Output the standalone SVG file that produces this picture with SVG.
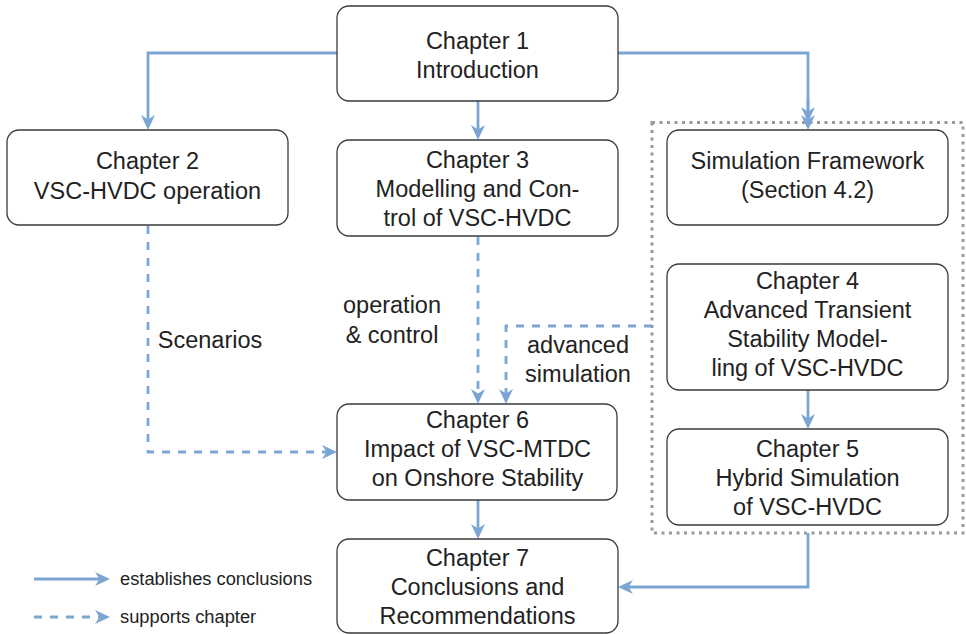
<svg xmlns="http://www.w3.org/2000/svg" width="966" height="634" viewBox="0 0 966 634">
<style>
.box{fill:#fff;stroke:#3a3a3a;stroke-width:1.3}
.t{font-family:"Liberation Sans",Arial,sans-serif;font-size:23.5px;fill:#222;text-anchor:middle}
.lg{font-family:"Liberation Sans",Arial,sans-serif;font-size:18.3px;fill:#222}
.s{fill:none;stroke:#7ba6d4;stroke-width:2.8}
.d{fill:none;stroke:#7ba6d4;stroke-width:2.8;stroke-dasharray:8 8}
.frame{fill:none;stroke:#9a9a9a;stroke-width:3;stroke-dasharray:3 4.5}
</style>
<defs>
<marker id="ah" markerUnits="userSpaceOnUse" markerWidth="18" markerHeight="18" viewBox="-1 -9 18 18" refX="11" refY="0" orient="auto">
<path d="M0,-7 L15,0 L0,7 L4.5,0 z" fill="#7ba6d4"/>
</marker>
</defs>
<rect x="0" y="0" width="966" height="634" fill="#fff"/>
<rect class="frame" x="652" y="122.5" width="311" height="410.5"/>
<g id="connectors">
<path class="s" d="M337,53 H148 V126" marker-end="url(#ah)"/>
<path class="s" d="M478,101 V136" marker-end="url(#ah)"/>
<path class="s" d="M618,53 H808 V126" marker-end="url(#ah)"/>
<path class="s" d="M808,100 V118" marker-end="url(#ah)"/>
<path class="d" d="M148,226 V452 H333" marker-end="url(#ah)"/>
<path class="d" d="M478,237 V400" marker-end="url(#ah)"/>
<path class="d" d="M652,326 H506 V400" marker-end="url(#ah)"/>
<path class="s" d="M808,390 V425" marker-end="url(#ah)"/>
<path class="s" d="M808,533 V587 H622" marker-end="url(#ah)"/>
<path class="s" d="M478,500 V535" marker-end="url(#ah)"/>
</g>
<g id="labels">
<text class="t" x="210" y="348">Scenarios</text>
<text class="t" x="392" y="313">operation</text>
<text class="t" x="392" y="343">&amp; control</text>
<text class="t" x="578" y="353">advanced</text>
<text class="t" x="578" y="382">simulation</text>
</g>
<g id="ch1">
<rect class="box" x="337" y="6" width="281" height="95" rx="12"/>
<text class="t" x="477.5" y="48.5">Chapter 1</text>
<text class="t" x="477.5" y="78">Introduction</text>
</g>
<g id="ch2">
<rect class="box" x="7" y="130" width="281" height="95" rx="12"/>
<text class="t" x="147.5" y="168.5">Chapter 2</text>
<text class="t" x="147.5" y="198.5">VSC-HVDC operation</text>
</g>
<g id="ch3">
<rect class="box" x="337" y="140" width="281" height="96" rx="12"/>
<text class="t" x="477.5" y="168">Chapter 3</text>
<text class="t" x="477.5" y="197">Modelling and Con-</text>
<text class="t" x="477.5" y="226">trol of VSC-HVDC</text>
</g>
<g id="simframework">
<rect class="box" x="667" y="130" width="281" height="95" rx="12"/>
<text class="t" x="807.5" y="168.5">Simulation Framework</text>
<text class="t" x="807.5" y="198">(Section 4.2)</text>
</g>
<g id="ch4">
<rect class="box" x="667" y="264" width="281" height="126" rx="12"/>
<text class="t" x="807.5" y="289">Chapter 4</text>
<text class="t" x="807.5" y="318">Advanced Transient</text>
<text class="t" x="807.5" y="347">Stability Model-</text>
<text class="t" x="807.5" y="375.5">ling of VSC-HVDC</text>
</g>
<g id="ch5">
<rect class="box" x="667" y="429" width="281" height="96" rx="12"/>
<text class="t" x="807.5" y="457">Chapter 5</text>
<text class="t" x="807.5" y="486">Hybrid Simulation</text>
<text class="t" x="807.5" y="514.5">of VSC-HVDC</text>
</g>
<g id="ch6">
<rect class="box" x="337" y="404" width="280" height="96" rx="12"/>
<text class="t" x="477.5" y="428">Chapter 6</text>
<text class="t" x="477.5" y="457">Impact of VSC-MTDC</text>
<text class="t" x="477.5" y="485.5">on Onshore Stability</text>
</g>
<g id="ch7">
<rect class="box" x="337" y="539" width="281" height="94" rx="12"/>
<text class="t" x="477.5" y="566">Chapter 7</text>
<text class="t" x="477.5" y="595">Conclusions and</text>
<text class="t" x="477.5" y="624">Recommendations</text>
</g>
<g id="legend">
<path class="s" d="M34,579 H106" marker-end="url(#ah)"/>
<path class="d" d="M34,617 H106" marker-end="url(#ah)"/>
<text class="lg" x="120" y="585">establishes conclusions</text>
<text class="lg" x="120" y="622.5">supports chapter</text>
</g>
</svg>
